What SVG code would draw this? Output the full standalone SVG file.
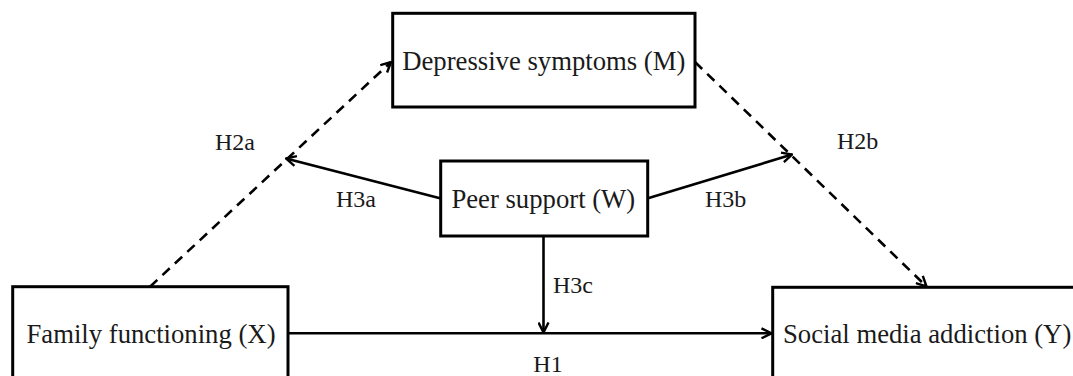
<svg xmlns="http://www.w3.org/2000/svg" width="1073" height="376" viewBox="0 0 1073 376">
<style>
.box{fill:#fff;stroke:#000;stroke-width:3}
.node{font-family:"Liberation Serif","Times New Roman",serif;font-size:26.7px;fill:#1a1a1a}
.lbl{font-family:"Liberation Serif","Times New Roman",serif;font-size:24px;fill:#1a1a1a}
.ln{stroke:#000;stroke-width:2.6;fill:none}
.dash{stroke-dasharray:10 7}
</style>
<defs>
<marker id="ah" viewBox="0 0 12 12" refX="11" refY="6" markerWidth="12" markerHeight="12" markerUnits="userSpaceOnUse" orient="auto">
<path d="M1,1 L11,6 L1,11" fill="none" stroke="#000" stroke-width="2.4"/>
</marker>
</defs>
<rect width="1073" height="376" fill="#fff"/>
<g id="connectors">
<line class="ln dash" x1="150" y1="286.7" x2="391" y2="62" marker-end="url(#ah)"/>
<line class="ln dash" x1="695" y1="62" x2="926.5" y2="286.5" marker-end="url(#ah)"/>
<line class="ln" x1="440" y1="198.3" x2="286" y2="158.5" marker-end="url(#ah)"/>
<line class="ln" x1="648" y1="198.3" x2="792" y2="154.5" marker-end="url(#ah)"/>
<line class="ln" x1="543.5" y1="236" x2="543.5" y2="332.5" marker-end="url(#ah)"/>
<line class="ln" x1="288" y1="333.3" x2="771.5" y2="333.3" marker-end="url(#ah)"/>
<text class="lbl" x="215" y="150">H2a</text>
<text class="lbl" x="837" y="149">H2b</text>
<text class="lbl" x="336" y="207">H3a</text>
<text class="lbl" x="705" y="207">H3b</text>
<text class="lbl" x="553" y="293">H3c</text>
<text class="lbl" x="533.3" y="372">H1</text>
</g>
<g id="node-M">
<rect class="box" x="392.7" y="13.3" width="302.3" height="93.7"/>
<text class="node" x="543.8" y="70" text-anchor="middle">Depressive symptoms (M)</text>
</g>
<g id="node-W">
<rect class="box" x="440.7" y="161" width="207" height="75"/>
<text class="node" x="543.3" y="208.3" text-anchor="middle">Peer support (W)</text>
</g>
<g id="node-X">
<rect class="box" x="12.7" y="286.7" width="275.3" height="100"/>
<text class="node" x="151" y="343" text-anchor="middle">Family functioning (X)</text>
</g>
<g id="node-Y">
<rect class="box" x="772.7" y="287.3" width="310" height="100"/>
<text class="node" x="783" y="342.7">Social media addiction (Y)</text>
</g>
</svg>
